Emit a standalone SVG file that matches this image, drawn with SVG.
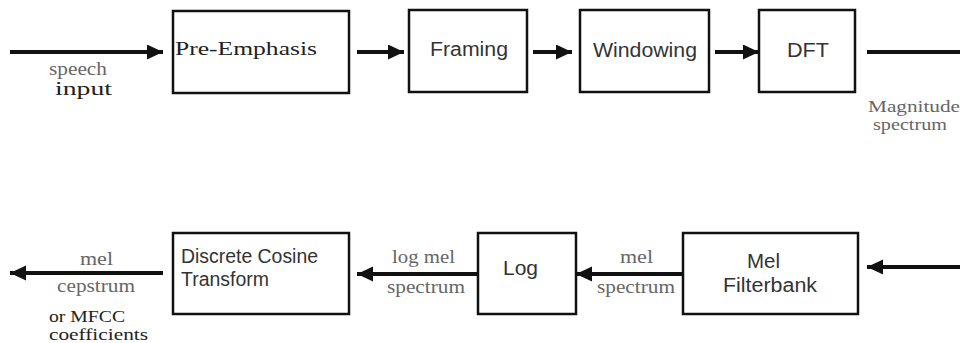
<svg xmlns="http://www.w3.org/2000/svg" width="960" height="343" viewBox="0 0 960 343">
  <defs>
    <marker id="head" markerUnits="userSpaceOnUse" markerWidth="17" markerHeight="16" refX="16" refY="7.5" orient="auto">
      <path d="M0,0 L16,7.5 L0,15 z" fill="#111"/>
    </marker>
    <style>
      .box { fill: #fff; stroke: #111; stroke-width: 2.5; }
      .flow { stroke: #111; stroke-width: 4; fill: none; }
      .arrow { marker-end: url(#head); }
      .sans { font-family: "Liberation Sans", Arial, sans-serif; font-size: 20px; fill: #333; }
      .serif { font-family: "Liberation Serif", "Times New Roman", serif; font-size: 18px; fill: #666; }
      .dark { font-family: "Liberation Serif", "Times New Roman", serif; font-size: 19px; fill: #222; }
      .small { font-size: 16px; }
    </style>
  </defs>
  <rect width="960" height="343" fill="#fff"/>

  <!-- connectors and their labels -->
  <g id="connectors">
    <line class="flow arrow" x1="10" y1="52" x2="163" y2="52"/>
    <line class="flow arrow" x1="357" y1="52" x2="404" y2="52"/>
    <line class="flow arrow" x1="533" y1="52" x2="572" y2="52"/>
    <line class="flow arrow" x1="715" y1="52" x2="759" y2="52"/>
    <line class="flow" x1="867" y1="52" x2="960" y2="52"/>
    <line class="flow arrow" x1="960" y1="267" x2="867" y2="267"/>
    <line class="flow arrow" x1="683" y1="274" x2="576" y2="274"/>
    <line class="flow arrow" x1="478" y1="274" x2="357" y2="274"/>
    <line class="flow arrow" x1="163" y1="273" x2="10" y2="273"/>

    <text class="serif" x="49" y="75" textLength="58" lengthAdjust="spacingAndGlyphs">speech</text>
    <text class="dark" x="55" y="95" textLength="57" lengthAdjust="spacingAndGlyphs">input</text>
    <text class="serif small" x="868" y="112" textLength="92" lengthAdjust="spacingAndGlyphs">Magnitude</text>
    <text class="serif small" x="873" y="130" textLength="74" lengthAdjust="spacingAndGlyphs">spectrum</text>

    <text class="serif" x="80" y="265" textLength="33" lengthAdjust="spacingAndGlyphs">mel</text>
    <text class="serif" x="57" y="292" textLength="78" lengthAdjust="spacingAndGlyphs">cepstrum</text>
    <text class="dark small" x="49" y="322" textLength="76" lengthAdjust="spacingAndGlyphs">or MFCC</text>
    <text class="dark small" x="49" y="340" textLength="99" lengthAdjust="spacingAndGlyphs">coefficients</text>

    <text class="serif" x="392" y="263" textLength="63" lengthAdjust="spacingAndGlyphs">log mel</text>
    <text class="serif" x="387" y="293" textLength="78" lengthAdjust="spacingAndGlyphs">spectrum</text>

    <text class="serif" x="620" y="263" textLength="33" lengthAdjust="spacingAndGlyphs">mel</text>
    <text class="serif" x="597" y="293" textLength="78" lengthAdjust="spacingAndGlyphs">spectrum</text>
  </g>

  <!-- processing blocks -->
  <g id="pre-emphasis">
    <rect class="box" x="173" y="11" width="176" height="82"/>
    <text class="dark" x="175" y="55" font-size="21" textLength="142" lengthAdjust="spacingAndGlyphs">Pre-Emphasis</text>
  </g>
  <g id="framing">
    <rect class="box" x="409" y="10" width="118" height="82"/>
    <text class="sans" x="430" y="56" textLength="78" lengthAdjust="spacingAndGlyphs">Framing</text>
  </g>
  <g id="windowing">
    <rect class="box" x="580" y="10" width="129" height="82"/>
    <text class="sans" x="593" y="57" textLength="104" lengthAdjust="spacingAndGlyphs">Windowing</text>
  </g>
  <g id="dft">
    <rect class="box" x="759" y="10" width="96" height="82"/>
    <text class="sans" x="787" y="57" textLength="42" lengthAdjust="spacingAndGlyphs">DFT</text>
  </g>
  <g id="mel-filterbank">
    <rect class="box" x="683" y="233" width="175" height="81"/>
    <text class="sans" x="747" y="268" textLength="33" lengthAdjust="spacingAndGlyphs">Mel</text>
    <text class="sans" x="723" y="292" textLength="94" lengthAdjust="spacingAndGlyphs">Filterbank</text>
  </g>
  <g id="log">
    <rect class="box" x="478" y="233" width="98" height="81"/>
    <text class="sans" x="503" y="275" textLength="35" lengthAdjust="spacingAndGlyphs">Log</text>
  </g>
  <g id="dct">
    <rect class="box" x="173" y="233" width="176" height="81"/>
    <text class="sans" x="181" y="263" textLength="137" lengthAdjust="spacingAndGlyphs">Discrete Cosine</text>
    <text class="sans" x="181" y="286" textLength="88" lengthAdjust="spacingAndGlyphs">Transform</text>
  </g>
</svg>
